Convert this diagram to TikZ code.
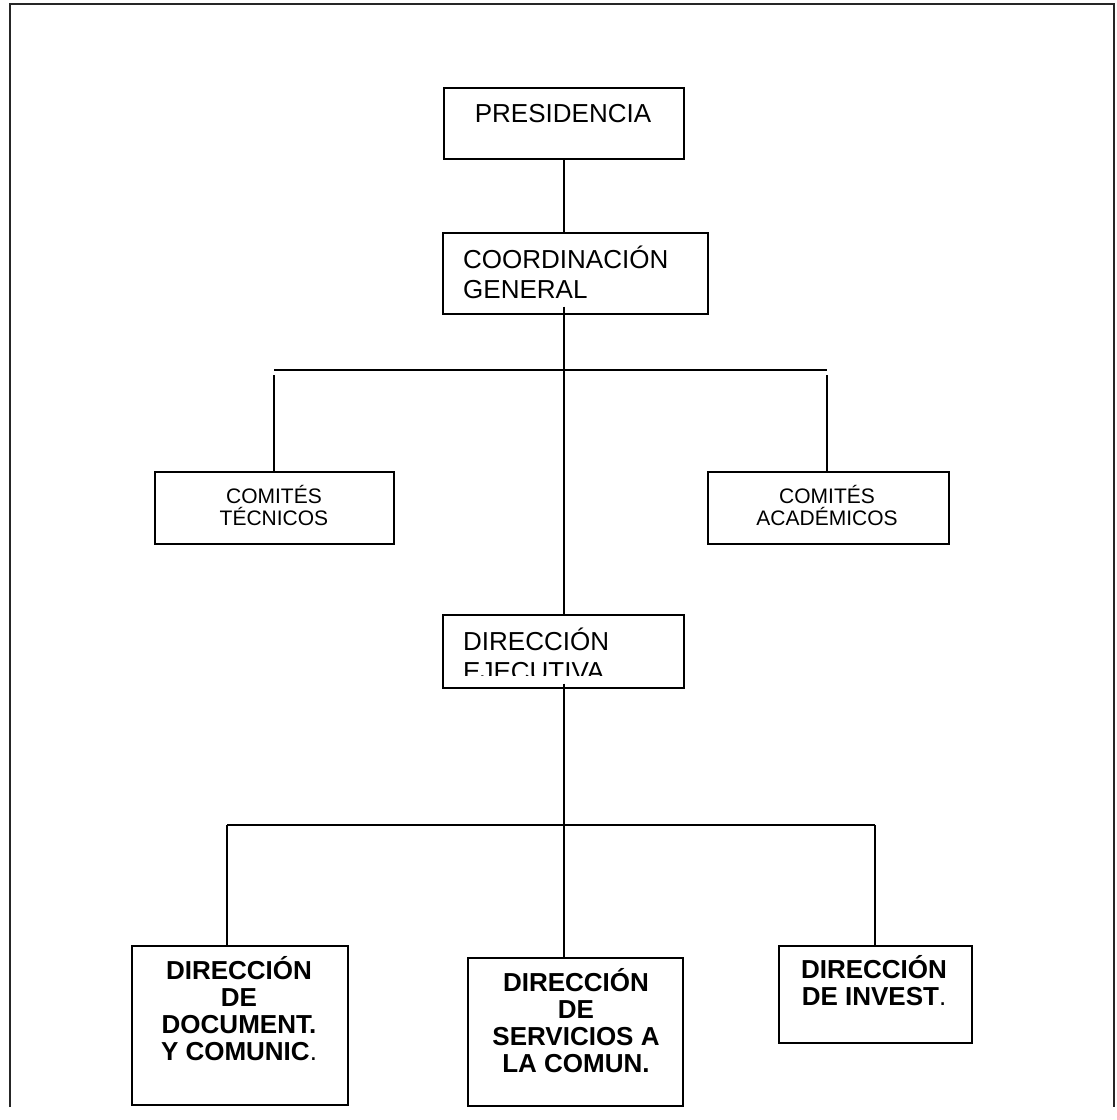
\documentclass[tikz,border=0pt]{standalone}
\usepackage{fontspec}
\setmainfont{Liberation Sans}
\begin{document}
\begin{tikzpicture}[x=1pt,y=-1pt,
  box/.style={draw, line width=1.6pt, inner sep=0pt, anchor=north west},
  conn/.style={line width=1.6pt},
  frame/.style={line width=2pt, draw=black!85},
  bigtxt/.style={inner sep=0pt, font=\fontsize{26}{30}\selectfont},
  smalltxt/.style={inner sep=0pt, align=center, font=\fontsize{21}{22}\selectfont},
  boldtxt/.style={inner sep=0pt, align=center, font=\fontsize{26}{26.8}\selectfont\bfseries}]
\useasboundingbox (0,0) rectangle (1117,1120);
% outer frame (open at the bottom)
\draw[frame] (10,1107) -- (10,4) -- (1114,4) -- (1114,1107);

% boxes
\node[box, minimum width=240pt, minimum height=71pt] (pres) at (443,87) {};
\node[box, minimum width=265pt, minimum height=81pt] (coord) at (442,232) {};
\node[box, minimum width=239pt, minimum height=72pt] (tec) at (154,471) {};
\node[box, minimum width=241pt, minimum height=72pt] (acad) at (707,471) {};
\node[box, minimum width=241pt, minimum height=73pt] (dirEj) at (442,614) {};
\node[box, minimum width=216pt, minimum height=159pt] (doc) at (131,945) {};
\node[box, minimum width=215pt, minimum height=148pt] (serv) at (467,957) {};
\node[box, minimum width=193pt, minimum height=97pt] (inv) at (778,945) {};

% texts (anchor base = baseline of the last line)
\node[bigtxt, anchor=base] (presT) at (563,122) {PRESIDENCIA};
\node[bigtxt, anchor=base west, align=left] (coordT) at (463,298) {COORDINACIÓN\\GENERAL};
\node[smalltxt, anchor=base] (tecT) at (274,525) {COMITÉS\\TÉCNICOS};
\node[smalltxt, anchor=base] (acadT) at (827,525) {COMITÉS\\ACADÉMICOS};
\begin{scope}
  \clip (442,614) rectangle (683,675);
  \node[bigtxt, anchor=base west, align=left] (dirEjT) at (463,680) {DIRECCIÓN\\EJECUTIVA};
\end{scope}
\node[boldtxt, anchor=base] (docT) at (239,1060) {DIRECCIÓN\\DE\\DOCUMENT.\\Y COMUNIC\textmd{.}};
\node[boldtxt, anchor=base] (servT) at (576,1072) {DIRECCIÓN\\DE\\SERVICIOS A\\LA COMUN.};
\node[boldtxt, anchor=base] (invT) at (874,1005) {DIRECCIÓN\\DE INVEST\textmd{.}};

% connector coordinates
\coordinate (barL) at (274,370);
\coordinate (barR) at (827,370);
\coordinate (barBL) at (227,825);
\coordinate (barBR) at (875,825);

% connectors
\draw[conn] (pres.south) -- (pres.south |- coord.north);
\draw[conn] ([yshift=8pt]coord.south -| pres.south) -- (dirEj.north -| pres.south);
\draw[conn] (barL) -- (barR);
\draw[conn] ([yshift=-5pt]barL) -- (barL |- tec.north);
\draw[conn] ([yshift=-5pt]barR) -- (barR |- acad.north);
\draw[conn] ([yshift=5pt]dirEj.south -| pres.south) -- (serv.north -| pres.south);
\draw[conn] (barBL) -- (barBR);
\draw[conn] (barBL) -- (barBL |- doc.north);
\draw[conn] (barBR) -- (barBR |- inv.north);
\end{tikzpicture}
\end{document}
